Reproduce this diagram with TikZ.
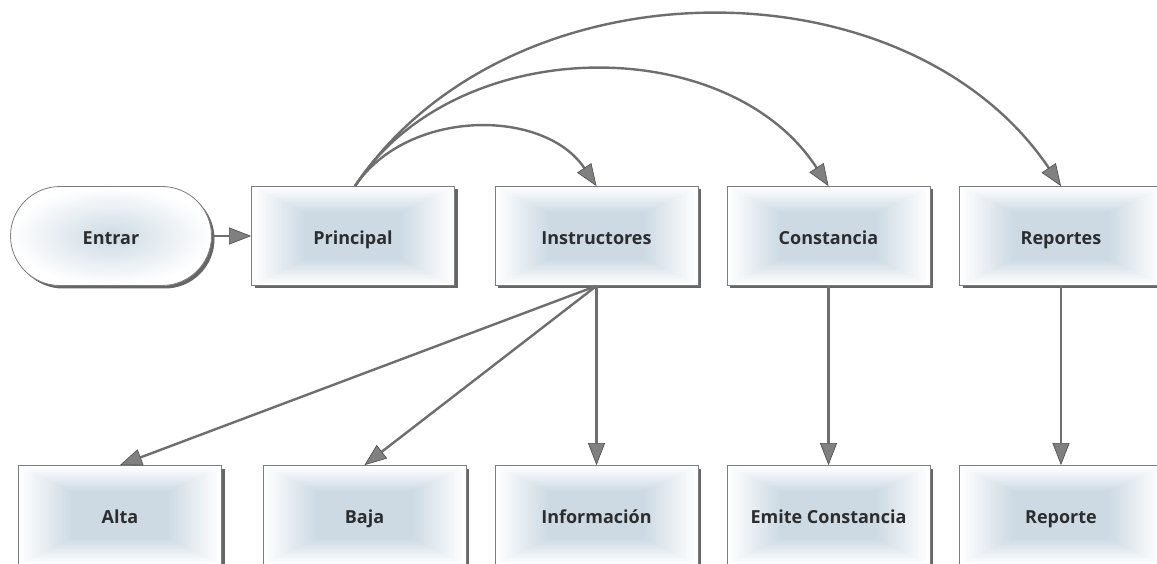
\documentclass[tikz,border=0pt]{standalone}
\usepackage{fontspec}
\setmainfont{Open Sans}
\usepackage{tikz}
\usetikzlibrary{arrows.meta}
\usetikzlibrary{shapes.misc,shadows,calc}
\usepackage{xcolor}
\definecolor{boxblue}{RGB}{205,218,228}
\definecolor{boxline}{RGB}{125,125,125}
\definecolor{linkgray}{RGB}{110,110,110}
\definecolor{textgray}{RGB}{45,45,45}

\tikzset{
  banded/.style={path picture={
      \foreach \k in {0,...,20}{
        \pgfmathsetmacro\tone{\k*5}
        \fill[boxblue!\tone!white]
          ($(path picture bounding box.center)!{1-\k*0.026}!(path picture bounding box.south west)$)
          rectangle
          ($(path picture bounding box.center)!{1-\k*0.026}!(path picture bounding box.north east)$);
      }}},
  menubox/.style={draw=boxline, line width=0.8pt, fill=white, banded,
    minimum width=203pt, minimum height=99pt, inner sep=0pt,
    text height=19pt, text depth=2pt,
    text=textgray, font=\bfseries\fontsize{18}{20}\selectfont,
    drop shadow={shadow xshift=3pt, shadow yshift=-3pt, fill=black!80, opacity=0.75}},
  startbox/.style={menubox, rounded rectangle, path picture={},
    inner color=boxblue, outer color=white},
  link/.style={draw=linkgray, line width=2.4pt,
    -{Triangle[length=22pt, width=17pt, fill=black!50, color=black!70, line width=0.6pt]}}
}

\begin{document}
\begin{tikzpicture}[x=1pt, y=1pt]
  \useasboundingbox (0,0) rectangle (1157,563);

  % rows
  \coordinate (toprow) at (0,327);
  \coordinate (botrow) at (0,48);

  % top row: menus
  \node [startbox, name=entrar, minimum width=201pt] at ($(toprow) + (111,0)$) {Entrar};
  \node [menubox, name=principal] at ($(toprow) + (353,0)$) {Principal};
  \node [menubox, name=instructores] at ($(toprow) + (596.5,0)$) {Instructores};
  \node [menubox, name=constancia] at ($(toprow) + (828.5,0)$) {Constancia};
  \node [menubox, name=reportes] at ($(toprow) + (1061,0)$) {Reportes};

  % bottom row: actions
  \node [menubox, name=alta] at ($(botrow) + (120,0)$) {Alta};
  \node [menubox, name=baja] at ($(botrow) + (364.5,0)$) {Baja};
  \node [menubox, name=informacion] at ($(botrow) + (596.5,0)$) {Información};
  \node [menubox, name=emite] at ($(botrow) + (828.5,0)$) {Emite Constancia};
  \node [menubox, name=reporte] at ($(botrow) + (1061,0)$) {Reporte};

  % links
  \draw [link] (entrar.east) -- (principal.west);
  \draw [link] ([xshift=2pt]principal.north) to[out=56, in=124] (instructores.north);
  \draw [link] ([xshift=2pt]principal.north) to[out=57, in=123] (constancia.north);
  \draw [link] ([xshift=2pt]principal.north) to[out=56, in=124] (reportes.north);

  \draw [link] (instructores.south) -- (alta.north);
  \draw [link] (instructores.south) -- (baja.north);
  \draw [link] (instructores.south) -- (informacion.north);
  \draw [link] (constancia.south) -- (emite.north);
  \draw [link] (reportes.south) -- (reporte.north);
\end{tikzpicture}
\end{document}
